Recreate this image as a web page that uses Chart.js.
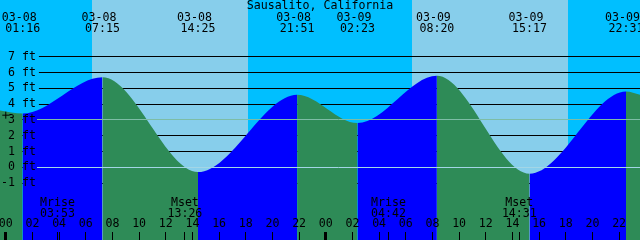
<!DOCTYPE html>
<html>
<head>
<meta charset="utf-8">
<script src="https://cdn.jsdelivr.net/npm/chart.js"></script>
<style>
  html, body { margin: 0; padding: 0; background: #ffffff; }
  canvas { display: block; }
</style>
</head>
<body>
<canvas id="tide" width="640" height="240"></canvas>
<script>
// ---------------- data ----------------
const stationName = 'Sausalito, California';

// visible time window (date, time)
const windowDates = ['03-07', '03-09'];
const windowTimes = ['23:34', '23:34'];
const windowEdgeLevels = [3.6, 4.6];          // ft, water level at the left / right edge

// high / low tides
const tideDates   = ['03-08', '03-08', '03-08', '03-08', '03-09', '03-09', '03-09', '03-09'];
const tideTimes   = ['01:16', '07:15', '14:25', '21:51', '02:23', '08:20', '15:17', '22:31'];
const tideHeights = [3.4, 5.7, -0.3, 4.6, 2.8, 5.8, -0.4, 4.8];   // ft

// sunrise / sunset
const sunDates = ['03-08', '03-08', '03-09', '03-09'];
const sunTimes = ['06:28', '18:10', '06:28', '18:10'];

// moon rise / set
const moonEvents = ['Mrise', 'Mset', 'Mrise', 'Mset'];
const moonDates  = ['03-08', '03-08', '03-09', '03-09'];
const moonTimes  = ['03:53', '13:26', '04:42', '14:31'];

// hour axis ticks (hours from 03-08 00:00) and labels
const hourTicks  = [0, 2, 4, 6, 8, 10, 12, 14, 16, 18, 20, 22, 24, 26, 28, 30, 32, 34, 36, 38, 40, 42, 44, 46];
const hourLabels = ['00', '02', '04', '06', '08', '10', '12', '14', '16', '18', '20', '22',
                    '00', '02', '04', '06', '08', '10', '12', '14', '16', '18', '20', '22'];

// depth axis
const depthTicks  = [-1, 0, 1, 2, 3, 4, 5, 6, 7];
const depthLabels = ['-1 ft', '0 ft', '1 ft', '2 ft', '3 ft', '4 ft', '5 ft', '6 ft', '7 ft'];
const datumLevel = 0;
const mslLevel = 3;

// "+" mark
const markDates  = ['03-08'];
const markTimes  = ['00:00'];
const markLevels = [3.3];

// ---------------- styling ----------------
const MONO = "'DejaVu Sans Mono', 'Liberation Mono', monospace";
const FS = 11.6;
const NIGHT = '#00BFFF';
const DAY = '#87CEEB';
const RISE = '#0000FF';
const FALL = '#2E8B57';
const DATUM_COLOR = '#A3D6E6';
const MSL_COLOR = '#7DBDA6';
const Y_MIN = -4.60, Y_MAX = 10.59;
const CH = 240;

function toHours(date, time) {
  const day = parseInt(date.split('-')[1], 10) - 8;
  const p = time.split(':').map(Number);
  return day * 24 + p[0] + p[1] / 60;
}
function yAt(px) { return Y_MIN + (CH - px) / CH * (Y_MAX - Y_MIN); }
function zeroPad(s) { s.paddingTop = 0; s.paddingBottom = 0; s.paddingLeft = 0; s.paddingRight = 0; }

const T0 = toHours(windowDates[0], windowTimes[0]);
const T1 = toHours(windowDates[1], windowTimes[1]);
const tideHours = tideTimes.map((t, i) => toHours(tideDates[i], t));
const sunHours  = sunTimes.map((t, i) => toHours(sunDates[i], t));
const moonHours = moonTimes.map((t, i) => toHours(moonDates[i], t));
const markHours = markTimes.map((t, i) => toHours(markDates[i], t));
const tickMarkHours = hourTicks.concat(moonHours).sort((a, b) => a - b);

function skyColorAt(h) {
  const n = sunHours.filter(s => s <= h).length;
  return n % 2 === 0 ? NIGHT : DAY;
}

const waterPoints = [{x: T0, y: windowEdgeLevels[0]}]
  .concat(tideHours.map((h, i) => ({x: h, y: tideHeights[i]})))
  .concat([{x: T1, y: windowEdgeLevels[1]}]);
const markPoints = markHours.map((h, i) => ({x: h, y: markLevels[i]}));

const tickFont = {family: MONO, size: FS, lineHeight: '11px'};

// sky bands + datum / msl lines
const tidePlugin = {
  id: 'tideDecor',
  beforeDraw(chart) {
    const {ctx, chartArea: a, scales: {x}} = chart;
    const edges = [x.min].concat(sunHours).concat([x.max]);
    ctx.save();
    for (let i = 0; i < edges.length - 1; i++) {
      const x0 = Math.round(x.getPixelForValue(edges[i]));
      const x1 = Math.round(x.getPixelForValue(edges[i + 1]));
      ctx.fillStyle = skyColorAt((edges[i] + edges[i + 1]) / 2);
      ctx.fillRect(x0, a.top, x1 - x0, a.bottom - a.top);
    }
    ctx.restore();
  },
  afterDatasetsDraw(chart) {
    const {ctx, chartArea: a, scales: {y}} = chart;
    ctx.save();
    ctx.font = FS + 'px ' + MONO;
    const widest = Math.max.apply(null, depthLabels.map(s => ctx.measureText(s).width));
    const x0 = Math.round(y.right + y.options.ticks.padding + widest + 1);
    [[datumLevel, DATUM_COLOR], [mslLevel, MSL_COLOR]].forEach(([v, c]) => {
      const py = Math.round(y.getPixelForValue(v) - 0.5) + 0.5;
      ctx.strokeStyle = c;
      ctx.lineWidth = 1;
      ctx.beginPath();
      ctx.moveTo(x0, py);
      ctx.lineTo(a.right, py);
      ctx.stroke();
    });
    ctx.restore();
  }
};

function xAxis(px, extra) {
  return Object.assign({
    type: 'linear', axis: 'x', min: T0, max: T1,
    position: {y: yAt(px)},
    border: {display: false},
    grid: {display: false, drawTicks: false},
    afterFit: zeroPad
  }, extra);
}

Chart.defaults.color = '#000';
Chart.defaults.font.family = MONO;

new Chart(document.getElementById('tide'), {
  type: 'line',
  data: {
    datasets: [
      {
        label: 'mark',
        data: markPoints,
        showLine: false,
        pointStyle: 'cross',
        pointRadius: 3.5,
        pointBorderColor: '#000',
        pointBorderWidth: 1,
        order: 0
      },
      {
        label: 'tide',
        data: waterPoints,
        fill: 'start',
        cubicInterpolationMode: 'monotone',
        borderWidth: 0,
        borderColor: 'rgba(0,0,0,0)',
        backgroundColor: FALL,
        pointRadius: 0,
        segment: {
          backgroundColor: c => (c.p1.parsed.y > c.p0.parsed.y ? RISE : FALL)
        },
        order: 1
      }
    ]
  },
  options: {
    responsive: false,
    animation: false,
    devicePixelRatio: 1,
    events: [],
    layout: {padding: 0, autoPadding: false},
    plugins: {
      legend: {display: false},
      tooltip: {enabled: false},
      title: {
        display: true,
        text: stationName,
        color: '#000',
        font: {family: MONO, size: FS, weight: 'normal', lineHeight: '12px'},
        padding: {top: 0, bottom: -12}
      }
    },
    scales: {
      x: {type: 'linear', display: false, min: T0, max: T1, afterFit: zeroPad},
      y: {
        type: 'linear', position: 'left', min: Y_MIN, max: Y_MAX,
        afterFit: s => { s.width = 0; zeroPad(s); },
        afterBuildTicks: s => { s.ticks = depthTicks.map(v => ({value: v})); },
        border: {display: false},
        grid: {color: '#000', lineWidth: 1, drawTicks: false, z: -1},
        ticks: {
          mirror: true, crossAlign: 'far', padding: 1, z: 1, color: '#000',
          font: {family: MONO, size: FS, lineHeight: '14px'},
          callback: (v, i) => depthLabels[i],
          showLabelBackdrop: true,
          backdropColor: c => (c.tick && c.tick.value > mslLevel ? skyColorAt(T0) : 'rgba(0,0,0,0)'),
          backdropPadding: {left: 10, right: 3, top: -5.5, bottom: -5.5}
        }
      },
      xe: xAxis(12, {
        afterBuildTicks: s => { s.ticks = tideHours.map(v => ({value: v})); },
        ticks: {autoSkip: false, maxRotation: 0, minRotation: 0, padding: 0, z: 1, color: '#000',
                font: tickFont, callback: (v, i) => [tideDates[i] + ' ', tideTimes[i]]}
      }),
      xm: xAxis(197, {
        afterBuildTicks: s => { s.ticks = moonHours.map(v => ({value: v})); },
        ticks: {autoSkip: false, maxRotation: 0, minRotation: 0, padding: 0, z: 1, color: '#000',
                font: tickFont, callback: (v, i) => [moonEvents[i], moonTimes[i]]}
      }),
      xh: xAxis(218.2, {
        afterBuildTicks: s => { s.ticks = hourTicks.map(v => ({value: v})); },
        ticks: {autoSkip: false, maxRotation: 0, minRotation: 0, padding: 0, z: 1, color: '#000',
                font: tickFont, callback: (v, i) => hourLabels[i]}
      }),
      xt: xAxis(232, {
        afterBuildTicks: s => { s.ticks = tickMarkHours.map(v => ({value: v})); },
        grid: {display: true, drawOnChartArea: false, drawTicks: true, tickLength: 8,
               tickColor: '#000', z: 1,
               tickWidth: c => (c.tick && c.tick.value % 24 === 0 ? 3 : 1)},
        ticks: {display: false, autoSkip: false, maxRotation: 0, minRotation: 0}
      })
    }
  },
  plugins: [tidePlugin]
});
</script>
</body>
</html>
